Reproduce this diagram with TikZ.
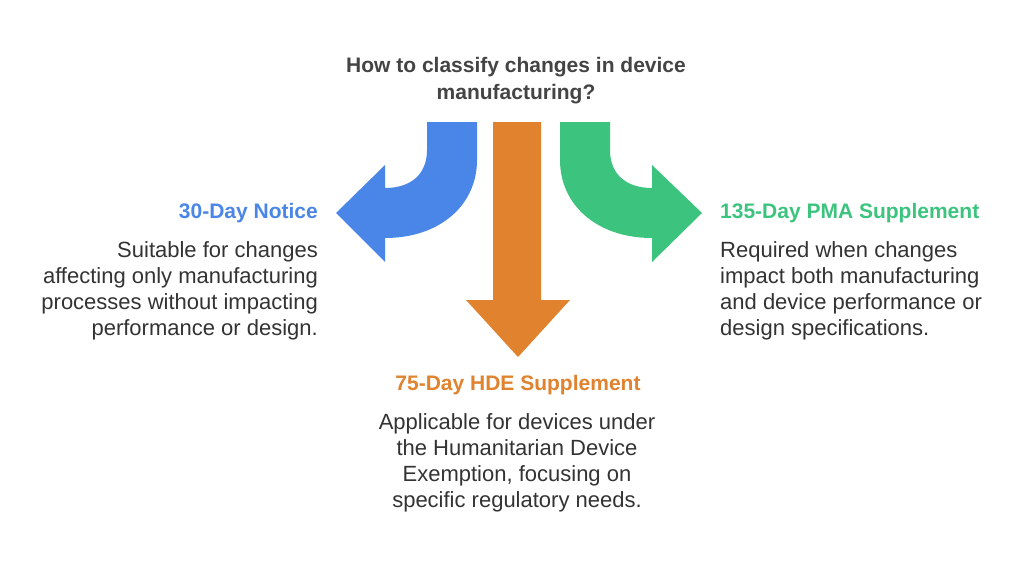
\documentclass[tikz,border=0pt]{standalone}
\usepackage{fontspec}
\setmainfont{Liberation Sans}
\begin{document}
\begin{tikzpicture}[x=1pt,y=-1pt,
  ttl/.style={font=\fontsize{21}{27}\selectfont\bfseries},
  body/.style={font=\fontsize{22}{26}\selectfont,text=txt,inner sep=0pt}]
\definecolor{cb}{HTML}{4A86E8}
\definecolor{co}{HTML}{E0822E}
\definecolor{cg}{HTML}{3CC47F}
\definecolor{txt}{HTML}{333333}
\definecolor{hd}{HTML}{444444}
\useasboundingbox[fill=white] (0,0) rectangle (1024,573);
% blue arrow
\fill[cb] (427,122) -- (427,150) .. controls (427,175) and (410,188) .. (385,188)
  -- (385,165) -- (336,213) -- (385,262) -- (385,238)
  .. controls (440,238) and (477,205) .. (477,160) -- (477,122) -- cycle;
% green arrow
\fill[cg] (610,122) -- (610,150) .. controls (610,175) and (627,188) .. (652,188)
  -- (652,165) -- (702,213) -- (652,262) -- (652,238)
  .. controls (597,238) and (560,205) .. (560,160) -- (560,122) -- cycle;
% orange arrow
\fill[co] (493,122) -- (493,300) -- (466,300) -- (518,357) -- (570,300) -- (541,300) -- (541,122) -- cycle;
\node[ttl,text=hd,align=center] (q) at (516,81) {How to classify changes in device\\manufacturing?};
\node[ttl,text=cb,anchor=east,inner sep=0pt] (t1) at (318,213) {30-Day Notice};
\node[body,anchor=north east,align=right] (b1) at (318,241) {Suitable for changes\\affecting only manufacturing\\processes without impacting\\performance or design.};
\node[ttl,text=cg,anchor=west,inner sep=0pt] (t3) at (720,213) {135-Day PMA Supplement};
\node[body,anchor=north west,align=left] (b3) at (720,241) {Required when changes\\impact both manufacturing\\and device performance or\\design specifications.};
\node[ttl,text=co,inner sep=0pt] (t2) at (518,385) {75-Day HDE Supplement};
\node[body,anchor=north,align=center] (b2) at (517,413) {Applicable for devices under\\the Humanitarian Device\\Exemption, focusing on\\specific regulatory needs.};
\end{tikzpicture}
\end{document}
